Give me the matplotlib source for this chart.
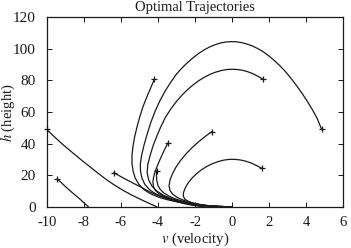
import matplotlib
matplotlib.use("Agg")
import matplotlib.pyplot as plt

# trajectories in the (v, h) plane, each listed from its start point (marker) to the end
traj_a_v = [4.83, 4.60, 4.38, 4.10, 3.80, 3.50, 3.20, 2.90, 2.60, 2.30, 2.00, 1.70, 1.40, 1.10,
            0.80, 0.50, 0.20, 0.00, -0.30, -0.60, -0.90, -1.20, -1.50, -1.80, -2.10, -2.40,
            -2.70, -3.00, -3.30, -3.60, -3.90, -4.15, -4.38, -4.58, -4.75, -4.88, -4.95, -4.94,
            -4.86, -4.70, -4.45, -4.15, -3.75, -3.30, -2.80, -2.30, -1.80, -1.30, -0.80, -0.40, 0.0]
traj_a_h = [49.0, 55.7, 60.5, 66.0, 71.4, 76.4, 81.0, 85.3, 89.1, 92.4, 95.4, 98.0, 100.1, 101.8,
            103.1, 104.0, 104.5, 104.6, 104.4, 103.8, 102.7, 101.3, 99.4, 97.1, 94.4, 91.4,
            87.9, 84.0, 79.0, 73.5, 67.0, 60.5, 53.5, 46.0, 39.0, 32.5, 27.0, 22.5,
            18.0, 14.0, 10.8, 8.3, 6.2, 4.5, 3.0, 1.9, 1.05, 0.5, 0.17, 0.04, 0.0]

traj_b_v = [1.65, 1.40, 1.10, 0.80, 0.50, 0.20, 0.00, -0.30, -0.60, -0.90, -1.20, -1.50, -1.80,
            -2.10, -2.40, -2.70, -3.00, -3.30, -3.60, -3.85, -4.05, -4.25, -4.42, -4.55, -4.58,
            -4.50, -4.32, -4.05, -3.70, -3.25, -2.75, -2.25, -1.75, -1.25, -0.75, -0.35, 0.0]
traj_b_h = [80.9, 82.6, 84.4, 85.7, 86.6, 87.0, 87.1, 86.9, 86.2, 85.2, 83.8, 82.0, 79.8,
            77.2, 74.2, 70.7, 66.7, 62.0, 56.5, 50.5, 45.0, 39.0, 32.5, 26.5, 21.5,
            17.0, 13.0, 9.8, 7.2, 5.0, 3.3, 2.0, 1.05, 0.45, 0.15, 0.03, 0.0]

traj_c_v = [-4.19, -4.40, -4.60, -4.80, -4.98, -5.13, -5.26, -5.35, -5.40, -5.40, -5.34, -5.22,
            -5.02, -4.75, -4.40, -3.95, -3.45, -2.90, -2.35, -1.80, -1.30, -0.80, -0.40, 0.0]
traj_c_h = [80.7, 75.0, 69.5, 63.5, 57.0, 50.5, 44.0, 38.0, 32.5, 27.5, 22.5, 18.0,
            14.0, 10.8, 8.2, 6.0, 4.3, 2.9, 1.8, 1.0, 0.45, 0.15, 0.03, 0.0]

traj_d_v = [-1.10, -1.45, -1.80, -2.15, -2.48, -2.78, -3.03, -3.22, -3.35, -3.40, -3.35, -3.20,
            -2.95, -2.62, -2.25, -1.85, -1.40, -0.95, -0.50, 0.0]
traj_d_h = [47.5, 44.5, 41.2, 37.5, 33.5, 29.3, 25.0, 20.8, 16.8, 13.2, 10.3, 7.9,
            5.8, 4.1, 2.7, 1.6, 0.8, 0.3, 0.07, 0.0]

traj_e_v = [1.60, 1.35, 1.05, 0.75, 0.45, 0.15, -0.15, -0.45, -0.75, -1.05, -1.35, -1.65, -1.92,
            -2.17, -2.38, -2.53, -2.62, -2.63, -2.55, -2.35, -2.05, -1.65, -1.20, -0.75, -0.35, 0.0]
traj_e_h = [24.3, 25.9, 27.6, 28.8, 29.6, 30.0, 30.0, 29.5, 28.6, 27.3, 25.6, 23.4, 20.9,
            18.0, 14.9, 11.8, 9.0, 6.7, 4.8, 3.3, 2.1, 1.2, 0.55, 0.17, 0.03, 0.0]

traj_f_v = [-3.47, -3.65, -3.82, -3.98, -4.12, -4.22, -4.27, -4.25, -4.15, -3.95, -3.65, -3.25,
            -2.80, -2.30, -1.80, -1.30, -0.80, -0.40, 0.0]
traj_f_h = [40.2, 36.0, 31.7, 27.4, 23.3, 19.5, 16.0, 13.0, 10.5, 8.3, 6.4, 4.7,
            3.2, 2.0, 1.1, 0.5, 0.16, 0.03, 0.0]

traj_g_v = [-4.07, -4.08, -4.06, -4.00, -3.88, -3.68, -3.40, -3.05, -2.62, -2.15, -1.65, -1.15,
            -0.65, -0.30, 0.0]
traj_g_h = [22.6, 19.5, 16.5, 13.5, 11.0, 8.7, 6.7, 4.9, 3.4, 2.1, 1.1, 0.45,
            0.12, 0.02, 0.0]

traj_h_v = [-6.37, -5.90, -5.40, -4.90, -4.43, -3.95, -3.50, -3.05, -2.60, -2.15, -1.70, -1.45]
traj_h_h = [21.5, 18.4, 15.3, 12.3, 9.3, 6.9, 5.0, 3.4, 2.0, 0.9, 0.2, 0.0]

traj_i_v = [-10.0, -9.65, -9.30, -8.93, -8.56, -8.13, -7.70, -7.23, -6.76, -6.33, -5.90, -5.45,
            -5.00, -4.53, -4.07]
traj_i_h = [49.0, 45.0, 41.2, 37.4, 33.8, 29.6, 25.6, 21.2, 17.0, 13.6, 10.5, 7.6,
            5.0, 2.4, 0.0]

traj_j_v = [-9.43, -9.16, -8.90, -8.60, -8.30, -8.03, -7.76]
traj_j_h = [17.6, 14.6, 11.8, 8.7, 5.8, 2.9, 0.0]

x_ticks = [-10, -8, -6, -4, -2, 0, 2, 4, 6]
y_ticks = [0, 20, 40, 60, 80, 100, 120]

plt.rcParams['font.family'] = ['Liberation Serif', 'DejaVu Serif']
plt.rcParams['mathtext.fontset'] = 'stix'
plt.rcParams['axes.unicode_minus'] = False


def main():
    trajectories = [
        (traj_a_v, traj_a_h), (traj_b_v, traj_b_h), (traj_c_v, traj_c_h),
        (traj_d_v, traj_d_h), (traj_e_v, traj_e_h), (traj_f_v, traj_f_h),
        (traj_g_v, traj_g_h), (traj_h_v, traj_h_h), (traj_i_v, traj_i_h),
        (traj_j_v, traj_j_h),
    ]

    fig = plt.figure(figsize=(3.51, 2.48), dpi=100)
    ax = fig.add_axes([46.7 / 351, 1 - 206.7 / 248, (343.3 - 46.7) / 351, (206.7 - 17.3) / 248])

    for v, h in trajectories:
        ax.plot(v, h, color='#1a1a1a', linewidth=0.9, solid_joinstyle='round')
        ax.plot(v[0], h[0], marker='+', color='#1a1a1a', markersize=4.5,
                markeredgewidth=0.9, clip_on=False)

    ax.set_xlim(-10, 6)
    ax.set_ylim(0, 120)
    ax.set_xticks(x_ticks)
    ax.set_yticks(y_ticks)
    ax.tick_params(direction='in', length=3.5, width=0.7, top=True, right=True,
                   labelsize=10.5, colors='#1a1a1a')
    ax.tick_params(axis='x', pad=7)
    ax.tick_params(axis='y', pad=8, labelsize=11)
    for spine in ax.spines.values():
        spine.set_linewidth(0.9)
        spine.set_color('#1a1a1a')

    fig.text(195 / 351, 1 - 7 / 248, 'Optimal Trajectories', ha='center', va='center',
             fontsize=10.5, color='#1a1a1a')
    fig.text(195 / 351, 1 - 239 / 248, r'$v$ (velocity)', ha='center', va='center',
             fontsize=10.5, color='#1a1a1a')
    fig.text(8 / 351, 1 - 113 / 248, r'$h$ (height)', ha='center', va='center',
             rotation=90, fontsize=10.5, color='#1a1a1a')

    fig.savefig('out.png', dpi=100)
    plt.close(fig)


if __name__ == "__main__":
    main()
